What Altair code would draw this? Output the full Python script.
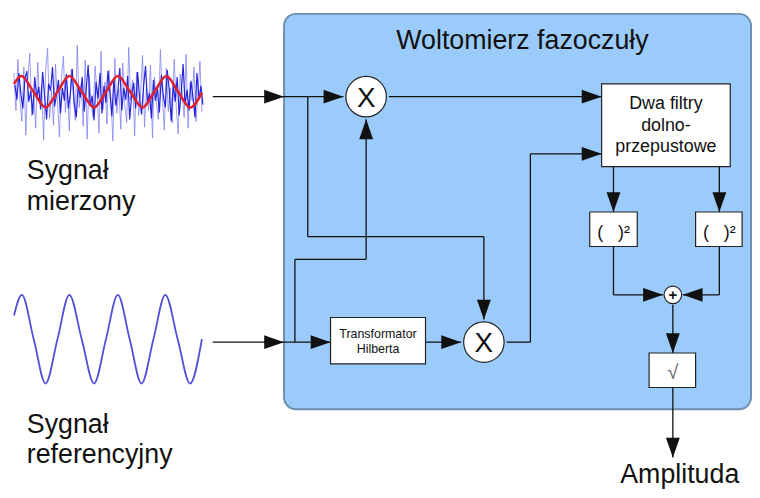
import altair as alt
import pandas as pd

# ---------------- waveform values (screen-pixel coordinates) ----------------
noise_light = [72,110,58,98,121,66,135,80,52,115,94,128,
               61,103,84,140,70,47,118,90,125,63,100,137,
               77,55,112,86,131,68,95,120,44,107,83,126,
               59,139,74,101,117,65,92,133,50,109,81,124,
               69,97,141,57,113,88,129,62,104,122,46,99,
               79,136,71,115,93,54,127,85,110,64,138,76,
               102,119,48,96,130,67,111,87,123,58,106,134,
               73,91,117,53,128,82,100,66,121,94,60,112]
noise_dark = [84,99,72,93,108,79,70,101,90,114,76,97,
              86,109,71,95,119,83,90,66,106,94,79,113,
              87,100,73,108,93,68,103,117,84,97,76,111,
              89,64,106,95,120,81,98,72,113,85,102,70,
              92,116,78,105,91,67,110,87,99,75,119,94,
              82,108,71,97,114,86,65,103,92,118,79,100,
              88,112,74,95,107,69,90,121,83,101,76,115,
              93,63,104,89,110,80,97,117,72,99,85,104]
red_x = [12, 19.5, 31.75, 44, 56, 68, 80.5, 93, 105, 117, 129.5, 142, 154, 166, 178, 190, 202]
red_y = [83, 75, 91, 107, 91, 75, 91, 107, 91, 75, 91, 107, 91, 75, 91, 107, 92]
ref_x = [12, 20, 32, 44, 56, 68, 80.5, 93, 105, 117, 129, 141, 153, 165, 177.5, 190, 202]
ref_y = [318, 297, 342, 387, 342, 297, 342, 387, 342, 297, 342, 387, 342, 297, 342, 387, 342]

# ---------------- diagram geometry ----------------
panel = dict(x1=[285], x2=[757], y1=[12], y2=[413])

box_x1 = [606, 332, 594, 701, 654]
box_x2 = [736, 428, 642, 748, 701]
box_y1 = [83, 320, 213, 213, 356]
box_y2 = [167, 367, 248, 248, 391]

circ_x = [368, 487, 678]
circ_y = [96, 345, 297]
circ_r = [23, 23, 10]

seg_x1 = [213, 309, 309, 487, 391, 213, 296, 296, 368, 428, 510, 534, 534, 618, 725, 618, 618, 725, 725, 678, 678]
seg_y1 = [96, 96, 238, 238, 96, 345, 345, 261, 261, 345, 345, 345, 154, 167, 167, 248, 297, 248, 297, 307, 391]
seg_x2 = [345, 309, 487, 487, 606, 332, 296, 368, 368, 464, 534, 534, 606, 618, 725, 618, 668, 725, 688, 678, 678]
seg_y2 = [96, 238, 238, 322, 96, 345, 261, 261, 119, 345, 345, 154, 154, 213, 213, 297, 297, 297, 297, 356, 462]

arrow_x = [285, 345, 606, 606, 285, 332, 464, 487, 368, 618, 725, 668, 688, 678, 678]
arrow_y = [96, 96, 96, 154, 345, 345, 345, 322, 119, 213, 213, 297, 297, 356, 462]
arrow_angle = [0, 0, 0, 0, 0, 0, 0, 90, 270, 90, 90, 0, 180, 90, 90]

SQ = "(\u00a0\u00a0\u00a0)²"
ctext = ["Woltomierz fazoczuły", "Dwa filtry", "dolno-", "przepustowe",
         "Transformator", "Hilberta", "X", "X", SQ, SQ, "Amplituda"]
ctext_x = [526, 671, 671, 671, 380, 380, 368, 487, 618, 725, 685]
ctext_y = [48, 109, 131, 152, 341, 356, 106, 355, 239, 239, 488]
ctext_size = [27, 18, 18, 18, 12.5, 12.5, 28, 28, 18, 18, 27]

ltext = ["Sygnał", "mierzony", "Sygnał", "referencyjny"]
ltext_x = [25, 25, 25, 25]
ltext_y = [179, 211, 437, 468]

W, H = 750, 482
xs = alt.Scale(domain=[8, 8 + W], nice=False, zero=False)
ys = alt.Scale(domain=[8, 8 + H], reverse=True, nice=False, zero=False)
FONT = "Liberation Sans"
INK = "#111111"


def X(f):
    return alt.X(f, type="quantitative", scale=xs, axis=None)


def Y(f):
    return alt.Y(f, type="quantitative", scale=ys, axis=None)


panel_df = pd.DataFrame(panel)
panel_layer = alt.Chart(panel_df).mark_rect(
    cornerRadius=12, fill="#9BCBFA", stroke="#6F8FAE", strokeWidth=2
).encode(x=X("x1"), x2="x2", y=Y("y1"), y2="y2")

nl = pd.DataFrame({"x": [12 + 2 * i for i in range(len(noise_light))], "y": noise_light})
nd = pd.DataFrame({"x": [13 + 2 * i for i in range(len(noise_dark))], "y": noise_dark})
light_layer = alt.Chart(nl).mark_line(color="#7C7CF0", strokeWidth=1, opacity=0.75).encode(x=X("x"), y=Y("y"))
dark_layer = alt.Chart(nd).mark_line(color="#1010D8", strokeWidth=1.2, opacity=0.9).encode(x=X("x"), y=Y("y"))

red_df = pd.DataFrame({"x": red_x, "y": red_y})
red_layer = alt.Chart(red_df).mark_line(color="#E0202C", strokeWidth=2.6, interpolate="monotone").encode(
    x=X("x"), y=Y("y"))

ref_df = pd.DataFrame({"x": ref_x, "y": ref_y})
ref_layer = alt.Chart(ref_df).mark_line(color="#5050D8", strokeWidth=1.8, interpolate="monotone").encode(
    x=X("x"), y=Y("y"))

seg_df = pd.DataFrame({"x1": seg_x1, "y1": seg_y1, "x2": seg_x2, "y2": seg_y2})
seg_layer = alt.Chart(seg_df).mark_rule(color=INK, strokeWidth=1.3).encode(
    x=X("x1"), y=Y("y1"), x2="x2", y2="y2")

box_df = pd.DataFrame({"x1": box_x1, "x2": box_x2, "y1": box_y1, "y2": box_y2})
box_layer = alt.Chart(box_df).mark_rect(fill="white", stroke="#222222", strokeWidth=1.2).encode(
    x=X("x1"), x2="x2", y=Y("y1"), y2="y2")

circ_df = pd.DataFrame({"x": circ_x, "y": circ_y, "s": [3.14159 * r * r for r in circ_r]})
circ_layer = alt.Chart(circ_df).mark_point(
    shape="circle", filled=True, fill="white", stroke="#222222", strokeWidth=1.2, opacity=1
).encode(x=X("x"), y=Y("y"), size=alt.Size("s:Q", scale=None))

arrow_df = pd.DataFrame({"x": arrow_x, "y": arrow_y, "a": arrow_angle})
arrow_layer = alt.Chart(arrow_df).mark_point(
    shape="M0,0L-2,-0.7L-2,0.7Z", filled=True, color=INK, opacity=1, size=400, strokeWidth=0
).encode(x=X("x"), y=Y("y"), angle=alt.Angle("a:Q", scale=None))

ct_df = pd.DataFrame({"t": ctext, "x": ctext_x, "y": ctext_y, "s": ctext_size})
ct_layer = alt.Chart(ct_df).mark_text(
    align="center", baseline="alphabetic", font=FONT, color=INK
).encode(x=X("x"), y=Y("y"), text="t:N", size=alt.Size("s:Q", scale=None))

plus_df = pd.DataFrame({"t": ["+"], "x": [678], "y": [302]})
plus_layer = alt.Chart(plus_df).mark_text(
    align="center", baseline="alphabetic", font=FONT, color=INK, fontSize=15, fontWeight="bold"
).encode(x=X("x"), y=Y("y"), text="t:N")

sqrt_df = pd.DataFrame({"t": ["√"], "x": [678], "y": [382]})
sqrt_layer = alt.Chart(sqrt_df).mark_text(
    align="center", baseline="alphabetic", font=FONT, color="#666666", fontSize=20
).encode(x=X("x"), y=Y("y"), text="t:N")

lt_df = pd.DataFrame({"t": ltext, "x": ltext_x, "y": ltext_y})
lt_layer = alt.Chart(lt_df).mark_text(
    align="left", baseline="alphabetic", font=FONT, color=INK, fontSize=27
).encode(x=X("x"), y=Y("y"), text="t:N")

chart = alt.layer(
    panel_layer, light_layer, dark_layer, red_layer, ref_layer, seg_layer,
    box_layer, circ_layer, arrow_layer, ct_layer, plus_layer, sqrt_layer, lt_layer
).properties(
    width=W, height=H, padding=0, background="white",
    autosize=alt.AutoSizeParams(type="fit", contains="padding")
).configure_view(strokeWidth=0)

chart.save("out.html", embed_options={"renderer": "svg", "actions": False})
